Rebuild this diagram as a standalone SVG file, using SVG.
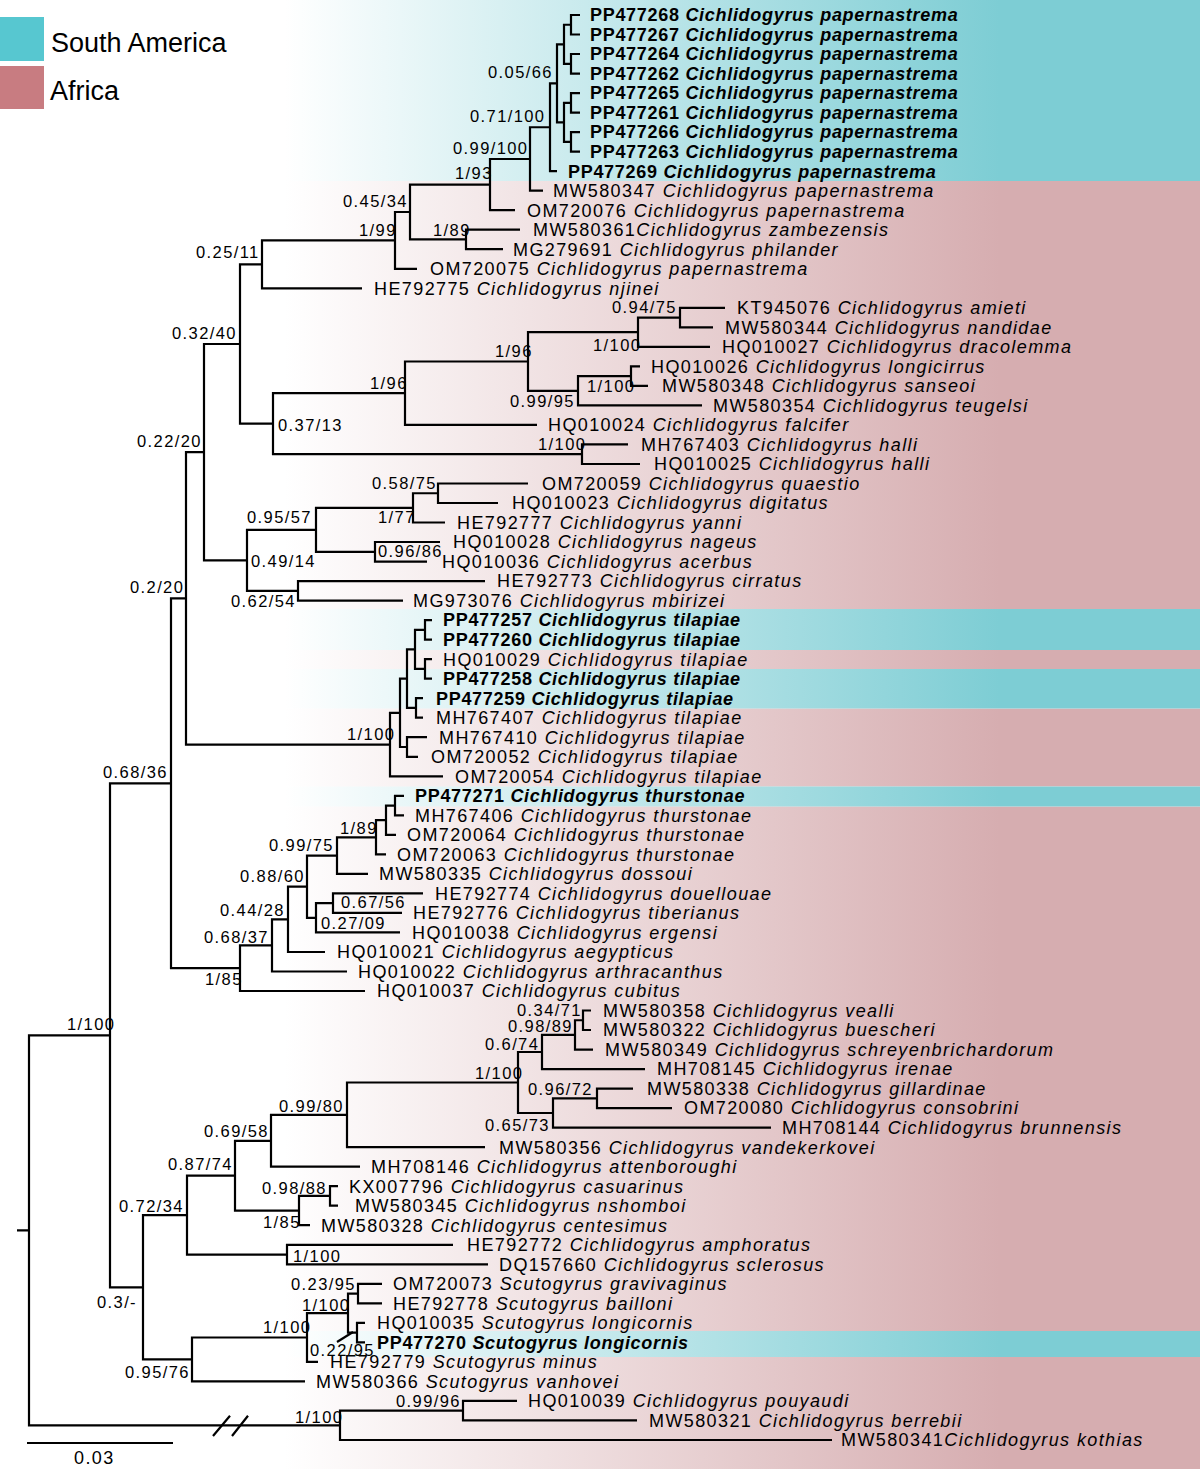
<svg xmlns="http://www.w3.org/2000/svg" width="1200" height="1469" viewBox="0 0 1200 1469">
<defs>
<linearGradient id="gP" gradientUnits="userSpaceOnUse" x1="285" y1="0" x2="1000" y2="0"><stop offset="0" stop-color="#d6adb0" stop-opacity="0"/><stop offset="1" stop-color="#d6adb0"/></linearGradient>
<linearGradient id="gC" gradientUnits="userSpaceOnUse" x1="285" y1="0" x2="1000" y2="0"><stop offset="0" stop-color="#7dcdd4" stop-opacity="0"/><stop offset="1" stop-color="#7dcdd4"/></linearGradient>
<style>
.br{fill:none;stroke:#000;stroke-width:2.2;stroke-linejoin:miter}
.t{font-family:"Liberation Sans",Arial,sans-serif;font-size:18px;letter-spacing:1.4px;fill:#000}
.b{font-weight:bold;letter-spacing:0.7px}
.i{font-style:italic}
.s{font-family:"Liberation Sans",Arial,sans-serif;font-size:16.5px;letter-spacing:1.4px;fill:#000}
.lg{font-family:"Liberation Sans",Arial,sans-serif;font-size:27px;fill:#000}
</style>
</defs>
<rect width="1200" height="1469" fill="#fff"/>
<g id="background">
<rect x="0" y="0" width="1200" height="181" fill="url(#gC)"/>
<rect x="0" y="181" width="1200" height="1288" fill="url(#gP)"/>
<rect x="0" y="609" width="1200" height="41" fill="#fff"/>
<rect x="0" y="609" width="1200" height="41" fill="url(#gC)"/>
<rect x="0" y="669" width="1200" height="39.5" fill="#fff"/>
<rect x="0" y="669" width="1200" height="39.5" fill="url(#gC)"/>
<rect x="0" y="786.5" width="1200" height="20" fill="#fff"/>
<rect x="0" y="786.5" width="1200" height="20" fill="url(#gC)"/>
<rect x="0" y="1331" width="1200" height="26" fill="#fff"/>
<rect x="0" y="1331" width="1200" height="26" fill="url(#gC)"/>
</g>
<g id="legend">
<rect x="0" y="17" width="44" height="44" fill="#57c7d0"/>
<rect x="0" y="66" width="44" height="43" fill="#c87c81"/>
<text class="lg" x="51" y="52">South America</text>
<text class="lg" x="50" y="100">Africa</text>
</g>
<g id="connectors">
<path class="br" d="M580,15H571V34.5H580M580,54H571V73.6H580M580,93.1H571V112.6H580M580,132.1H571V151.6H580"/>
<path class="br" d="M571,24.75H564V63.8H571M571,102.85H564V141.85H571M564,44.3H557V122.35H564"/>
<path class="br" d="M557,83.3H550V171.2H557M550,127.25H530V190.7H543M530,159H490V210.2H515"/>
<path class="br" d="M520,229.7H466V249.2H503M490,184.6H410V239.45H466M410,212H395V268.8H417M395,240.4H262V288.3H362"/>
<path class="br" d="M725,307.8H680V327.3H713M680,317.55H638V346.8H710M640,366.4H631V385.9H648M631,376.15H578V405.4H702M638,332.2H528V390.8H578M528,361.5H405V424.9H537M628,444.4H582V464H640M405,393.2H273V454.2H582M262,264.35H240V423.7H273"/>
<path class="br" d="M528,483.5H438V503H498M438,493.25H413V522.5H445M440,542H375V561.6H427M413,507.9H316V551.8H375M485,581.1H298V600.6H403M316,529.85H247V590.85H298M240,344H204V560.35H247"/>
<path class="br" d="M432,620.1H425V639.6H432M432,659.2H425V678.7H432M425,629.85H415V668.95H425M423,698.2H416V717.7H423M415,649.4H407V707.95H416M427,737.2H407V756.8H418M407,678.7H400V747H407M400,712.85H390V776.3H443M204,452.2H186V744.6H390"/>
<path class="br" d="M404,795.8H395V815.3H404M395,805.55H386V834.8H396M386,820.2H376V854.4H386M376,837.3H337V873.9H368M423,893.4H333V912.9H402M333,903.15H316V932.4H400M337,855.6H307V917.8H316M307,886.7H288V952H325M288,919.35H272V971.5H347M272,945.4H240V991H365M186,598.4H171V968.2H240"/>
<path class="br" d="M591,1010.5H583V1030H591M583,1020.25H575V1049.6H593M575,1034.9H542V1069.1H645M633,1088.6H597V1108.1H672M597,1098.35H553V1127.6H771M542,1052H518V1113H553M518,1082.5H347V1147.2H485M347,1114.85H271V1166.7H360"/>
<path class="br" d="M338,1186.2H330V1205.7H338M330,1195.95H299V1225.2H310M271,1140.8H235V1210.6H299M453,1244.8H287V1264.3H488M235,1175.7H187V1254.55H287"/>
<path class="br" d="M382,1283.8H358V1303.3H382M365,1322.8H357V1342.4H365M358,1293.55H348V1332.6H357M348,1313.1H307V1361.9H318M307,1337.5H192V1381.4H305M187,1215.1H143V1359.45H192M171,783.3H110V1287.3H143"/>
<path class="br" d="M517,1400.9H463V1420.4H637M463,1410.65H340V1440H832M110,1035.3H29V1425.3H340M17,1230.3H29"/>
<path class="br" d="M213,1436L230,1415.7M232,1436L248,1415.7" stroke-width="1.8"/>
<path class="br" d="M337,1342L353,1332" stroke-width="1.2"/>
<path class="br" d="M27,1443H173"/>
</g>
<g id="leaves">
<g id="leaf-PP477268"><text class="t b" x="590" y="21.3">PP477268 <tspan class="i">Cichlidogyrus papernastrema</tspan></text></g>
<g id="leaf-PP477267"><text class="t b" x="590" y="40.8">PP477267 <tspan class="i">Cichlidogyrus papernastrema</tspan></text></g>
<g id="leaf-PP477264"><text class="t b" x="590" y="60.3">PP477264 <tspan class="i">Cichlidogyrus papernastrema</tspan></text></g>
<g id="leaf-PP477262"><text class="t b" x="590" y="79.9">PP477262 <tspan class="i">Cichlidogyrus papernastrema</tspan></text></g>
<g id="leaf-PP477265"><text class="t b" x="590" y="99.4">PP477265 <tspan class="i">Cichlidogyrus papernastrema</tspan></text></g>
<g id="leaf-PP477261"><text class="t b" x="590" y="118.9">PP477261 <tspan class="i">Cichlidogyrus papernastrema</tspan></text></g>
<g id="leaf-PP477266"><text class="t b" x="590" y="138.4">PP477266 <tspan class="i">Cichlidogyrus papernastrema</tspan></text></g>
<g id="leaf-PP477263"><text class="t b" x="590" y="157.9">PP477263 <tspan class="i">Cichlidogyrus papernastrema</tspan></text></g>
<g id="leaf-PP477269"><text class="t b" x="568" y="177.5">PP477269 <tspan class="i">Cichlidogyrus papernastrema</tspan></text></g>
<g id="leaf-MW580347"><text class="t" x="553" y="197">MW580347 <tspan class="i">Cichlidogyrus papernastrema</tspan></text></g>
<g id="leaf-OM720076"><text class="t" x="527" y="216.5">OM720076 <tspan class="i">Cichlidogyrus papernastrema</tspan></text></g>
<g id="leaf-MW580361"><text class="t" x="533" y="236">MW580361<tspan class="i">Cichlidogyrus zambezensis</tspan></text></g>
<g id="leaf-MG279691"><text class="t" x="513" y="255.5">MG279691 <tspan class="i">Cichlidogyrus philander</tspan></text></g>
<g id="leaf-OM720075"><text class="t" x="430" y="275.1">OM720075 <tspan class="i">Cichlidogyrus papernastrema</tspan></text></g>
<g id="leaf-HE792775"><text class="t" x="374" y="294.6">HE792775 <tspan class="i">Cichlidogyrus njinei</tspan></text></g>
<g id="leaf-KT945076"><text class="t" x="737" y="314.1">KT945076 <tspan class="i">Cichlidogyrus amieti</tspan></text></g>
<g id="leaf-MW580344"><text class="t" x="725" y="333.6">MW580344 <tspan class="i">Cichlidogyrus nandidae</tspan></text></g>
<g id="leaf-HQ010027"><text class="t" x="722" y="353.1">HQ010027 <tspan class="i">Cichlidogyrus dracolemma</tspan></text></g>
<g id="leaf-HQ010026"><text class="t" x="651" y="372.7">HQ010026 <tspan class="i">Cichlidogyrus longicirrus</tspan></text></g>
<g id="leaf-MW580348"><text class="t" x="662" y="392.2">MW580348 <tspan class="i">Cichlidogyrus sanseoi</tspan></text></g>
<g id="leaf-MW580354"><text class="t" x="713" y="411.7">MW580354 <tspan class="i">Cichlidogyrus teugelsi</tspan></text></g>
<g id="leaf-HQ010024"><text class="t" x="548" y="431.2">HQ010024 <tspan class="i">Cichlidogyrus falcifer</tspan></text></g>
<g id="leaf-MH767403"><text class="t" x="641" y="450.7">MH767403 <tspan class="i">Cichlidogyrus halli</tspan></text></g>
<g id="leaf-HQ010025"><text class="t" x="654" y="470.3">HQ010025 <tspan class="i">Cichlidogyrus halli</tspan></text></g>
<g id="leaf-OM720059"><text class="t" x="542" y="489.8">OM720059 <tspan class="i">Cichlidogyrus quaestio</tspan></text></g>
<g id="leaf-HQ010023"><text class="t" x="512" y="509.3">HQ010023 <tspan class="i">Cichlidogyrus digitatus</tspan></text></g>
<g id="leaf-HE792777"><text class="t" x="457" y="528.8">HE792777 <tspan class="i">Cichlidogyrus yanni</tspan></text></g>
<g id="leaf-HQ010028"><text class="t" x="453" y="548.3">HQ010028 <tspan class="i">Cichlidogyrus nageus</tspan></text></g>
<g id="leaf-HQ010036"><text class="t" x="442" y="567.9">HQ010036 <tspan class="i">Cichlidogyrus acerbus</tspan></text></g>
<g id="leaf-HE792773"><text class="t" x="497" y="587.4">HE792773 <tspan class="i">Cichlidogyrus cirratus</tspan></text></g>
<g id="leaf-MG973076"><text class="t" x="413" y="606.9">MG973076 <tspan class="i">Cichlidogyrus mbirizei</tspan></text></g>
<g id="leaf-PP477257"><text class="t b" x="443" y="626.4">PP477257 <tspan class="i">Cichlidogyrus tilapiae</tspan></text></g>
<g id="leaf-PP477260"><text class="t b" x="443" y="645.9">PP477260 <tspan class="i">Cichlidogyrus tilapiae</tspan></text></g>
<g id="leaf-HQ010029"><text class="t" x="443" y="665.5">HQ010029 <tspan class="i">Cichlidogyrus tilapiae</tspan></text></g>
<g id="leaf-PP477258"><text class="t b" x="443" y="685">PP477258 <tspan class="i">Cichlidogyrus tilapiae</tspan></text></g>
<g id="leaf-PP477259"><text class="t b" x="436" y="704.5">PP477259 <tspan class="i">Cichlidogyrus tilapiae</tspan></text></g>
<g id="leaf-MH767407"><text class="t" x="436" y="724">MH767407 <tspan class="i">Cichlidogyrus tilapiae</tspan></text></g>
<g id="leaf-MH767410"><text class="t" x="439" y="743.5">MH767410 <tspan class="i">Cichlidogyrus tilapiae</tspan></text></g>
<g id="leaf-OM720052"><text class="t" x="431" y="763.1">OM720052 <tspan class="i">Cichlidogyrus tilapiae</tspan></text></g>
<g id="leaf-OM720054"><text class="t" x="455" y="782.6">OM720054 <tspan class="i">Cichlidogyrus tilapiae</tspan></text></g>
<g id="leaf-PP477271"><text class="t b" x="415" y="802.1">PP477271 <tspan class="i">Cichlidogyrus thurstonae</tspan></text></g>
<g id="leaf-MH767406"><text class="t" x="415" y="821.6">MH767406 <tspan class="i">Cichlidogyrus thurstonae</tspan></text></g>
<g id="leaf-OM720064"><text class="t" x="407" y="841.1">OM720064 <tspan class="i">Cichlidogyrus thurstonae</tspan></text></g>
<g id="leaf-OM720063"><text class="t" x="397" y="860.7">OM720063 <tspan class="i">Cichlidogyrus thurstonae</tspan></text></g>
<g id="leaf-MW580335"><text class="t" x="379" y="880.2">MW580335 <tspan class="i">Cichlidogyrus dossoui</tspan></text></g>
<g id="leaf-HE792774"><text class="t" x="435" y="899.7">HE792774 <tspan class="i">Cichlidogyrus douellouae</tspan></text></g>
<g id="leaf-HE792776"><text class="t" x="413" y="919.2">HE792776 <tspan class="i">Cichlidogyrus tiberianus</tspan></text></g>
<g id="leaf-HQ010038"><text class="t" x="412" y="938.7">HQ010038 <tspan class="i">Cichlidogyrus ergensi</tspan></text></g>
<g id="leaf-HQ010021"><text class="t" x="337" y="958.3">HQ010021 <tspan class="i">Cichlidogyrus aegypticus</tspan></text></g>
<g id="leaf-HQ010022"><text class="t" x="358" y="977.8">HQ010022 <tspan class="i">Cichlidogyrus arthracanthus</tspan></text></g>
<g id="leaf-HQ010037"><text class="t" x="377" y="997.3">HQ010037 <tspan class="i">Cichlidogyrus cubitus</tspan></text></g>
<g id="leaf-MW580358"><text class="t" x="603" y="1016.8">MW580358 <tspan class="i">Cichlidogyrus vealli</tspan></text></g>
<g id="leaf-MW580322"><text class="t" x="603" y="1036.3">MW580322 <tspan class="i">Cichlidogyrus buescheri</tspan></text></g>
<g id="leaf-MW580349"><text class="t" x="605" y="1055.9">MW580349 <tspan class="i">Cichlidogyrus schreyenbrichardorum</tspan></text></g>
<g id="leaf-MH708145"><text class="t" x="657" y="1075.4">MH708145 <tspan class="i">Cichlidogyrus irenae</tspan></text></g>
<g id="leaf-MW580338"><text class="t" x="647" y="1094.9">MW580338 <tspan class="i">Cichlidogyrus gillardinae</tspan></text></g>
<g id="leaf-OM720080"><text class="t" x="684" y="1114.4">OM720080 <tspan class="i">Cichlidogyrus consobrini</tspan></text></g>
<g id="leaf-MH708144"><text class="t" x="782" y="1133.9">MH708144 <tspan class="i">Cichlidogyrus brunnensis</tspan></text></g>
<g id="leaf-MW580356"><text class="t" x="499" y="1153.5">MW580356 <tspan class="i">Cichlidogyrus vandekerkovei</tspan></text></g>
<g id="leaf-MH708146"><text class="t" x="371" y="1173">MH708146 <tspan class="i">Cichlidogyrus attenboroughi</tspan></text></g>
<g id="leaf-KX007796"><text class="t" x="349" y="1192.5">KX007796 <tspan class="i">Cichlidogyrus casuarinus</tspan></text></g>
<g id="leaf-MW580345"><text class="t" x="355" y="1212">MW580345 <tspan class="i">Cichlidogyrus nshomboi</tspan></text></g>
<g id="leaf-MW580328"><text class="t" x="321" y="1231.5">MW580328 <tspan class="i">Cichlidogyrus centesimus</tspan></text></g>
<g id="leaf-HE792772"><text class="t" x="467" y="1251.1">HE792772 <tspan class="i">Cichlidogyrus amphoratus</tspan></text></g>
<g id="leaf-DQ157660"><text class="t" x="499" y="1270.6">DQ157660 <tspan class="i">Cichlidogyrus sclerosus</tspan></text></g>
<g id="leaf-OM720073"><text class="t" x="393" y="1290.1">OM720073 <tspan class="i">Scutogyrus gravivaginus</tspan></text></g>
<g id="leaf-HE792778"><text class="t" x="393" y="1309.6">HE792778 <tspan class="i">Scutogyrus bailloni</tspan></text></g>
<g id="leaf-HQ010035"><text class="t" x="377" y="1329.1">HQ010035 <tspan class="i">Scutogyrus longicornis</tspan></text></g>
<g id="leaf-PP477270"><text class="t b" x="377" y="1348.7">PP477270 <tspan class="i">Scutogyrus longicornis</tspan></text></g>
<g id="leaf-HE792779"><text class="t" x="330" y="1368.2">HE792779 <tspan class="i">Scutogyrus minus</tspan></text></g>
<g id="leaf-MW580366"><text class="t" x="316" y="1387.7">MW580366 <tspan class="i">Scutogyrus vanhovei</tspan></text></g>
<g id="leaf-HQ010039"><text class="t" x="528" y="1407.2">HQ010039 <tspan class="i">Cichlidogyrus pouyaudi</tspan></text></g>
<g id="leaf-MW580321"><text class="t" x="649" y="1426.7">MW580321 <tspan class="i">Cichlidogyrus berrebii</tspan></text></g>
<g id="leaf-MW580341"><text class="t" x="841" y="1446.3">MW580341<tspan class="i">Cichlidogyrus kothias</tspan></text></g>
</g>
<g id="supports">
<g id="n1"><text class="s" x="488" y="77.5">0.05/66</text></g>
<g id="n2"><text class="s" x="470" y="122">0.71/100</text></g>
<g id="n3"><text class="s" x="453" y="153.5">0.99/100</text></g>
<g id="n4"><text class="s" x="455" y="179">1/93</text></g>
<g id="n5"><text class="s" x="343" y="207">0.45/34</text></g>
<g id="n6"><text class="s" x="359" y="236">1/99</text></g>
<g id="n7"><text class="s" x="433" y="236">1/89</text></g>
<g id="n8"><text class="s" x="196" y="258">0.25/11</text></g>
<g id="n9"><text class="s" x="172" y="339">0.32/40</text></g>
<g id="n10"><text class="s" x="370" y="389">1/96</text></g>
<g id="n11"><text class="s" x="278" y="431">0.37/13</text></g>
<g id="n12"><text class="s" x="137" y="447">0.22/20</text></g>
<g id="n13"><text class="s" x="612" y="313">0.94/75</text></g>
<g id="n14"><text class="s" x="495" y="357">1/96</text></g>
<g id="n15"><text class="s" x="593" y="351">1/100</text></g>
<g id="n16"><text class="s" x="587" y="392">1/100</text></g>
<g id="n17"><text class="s" x="510" y="407">0.99/95</text></g>
<g id="n18"><text class="s" x="538" y="450">1/100</text></g>
<g id="n19"><text class="s" x="372" y="489">0.58/75</text></g>
<g id="n20"><text class="s" x="247" y="523">0.95/57</text></g>
<g id="n21"><text class="s" x="378" y="523">1/77</text></g>
<g id="n22"><text class="s" x="251" y="567">0.49/14</text></g>
<g id="n23"><text class="s" x="378" y="557">0.96/86</text></g>
<g id="n24"><text class="s" x="130" y="593">0.2/20</text></g>
<g id="n25"><text class="s" x="231" y="607">0.62/54</text></g>
<g id="n26"><text class="s" x="347" y="740">1/100</text></g>
<g id="n27"><text class="s" x="103" y="778">0.68/36</text></g>
<g id="n28"><text class="s" x="340" y="834">1/89</text></g>
<g id="n29"><text class="s" x="269" y="851">0.99/75</text></g>
<g id="n30"><text class="s" x="240" y="882">0.88/60</text></g>
<g id="n31"><text class="s" x="341" y="908">0.67/56</text></g>
<g id="n32"><text class="s" x="220" y="916">0.44/28</text></g>
<g id="n33"><text class="s" x="321" y="929">0.27/09</text></g>
<g id="n34"><text class="s" x="204" y="943">0.68/37</text></g>
<g id="n35"><text class="s" x="205" y="985">1/85</text></g>
<g id="n36"><text class="s" x="67" y="1030">1/100</text></g>
<g id="n37"><text class="s" x="517" y="1016">0.34/71</text></g>
<g id="n38"><text class="s" x="508" y="1032">0.98/89</text></g>
<g id="n39"><text class="s" x="485" y="1050">0.6/74</text></g>
<g id="n40"><text class="s" x="475" y="1079">1/100</text></g>
<g id="n41"><text class="s" x="528" y="1095">0.96/72</text></g>
<g id="n42"><text class="s" x="485" y="1131">0.65/73</text></g>
<g id="n43"><text class="s" x="279" y="1112">0.99/80</text></g>
<g id="n44"><text class="s" x="204" y="1137">0.69/58</text></g>
<g id="n45"><text class="s" x="168" y="1170">0.87/74</text></g>
<g id="n46"><text class="s" x="262" y="1194">0.98/88</text></g>
<g id="n47"><text class="s" x="119" y="1212">0.72/34</text></g>
<g id="n48"><text class="s" x="263" y="1228">1/85</text></g>
<g id="n49"><text class="s" x="293" y="1262">1/100</text></g>
<g id="n50"><text class="s" x="291" y="1290">0.23/95</text></g>
<g id="n51"><text class="s" x="302" y="1311">1/100</text></g>
<g id="n52"><text class="s" x="97" y="1308">0.3/-</text></g>
<g id="n53"><text class="s" x="263" y="1333">1/100</text></g>
<g id="n54"><text class="s" x="310" y="1356">0.22/95</text></g>
<g id="n55"><text class="s" x="125" y="1378">0.95/76</text></g>
<g id="n56"><text class="s" x="396" y="1407">0.99/96</text></g>
<g id="n57"><text class="s" x="295" y="1423">1/100</text></g>
<g id="scale"><text class="t" x="74" y="1464">0.03</text></g>
</g>
</svg>
